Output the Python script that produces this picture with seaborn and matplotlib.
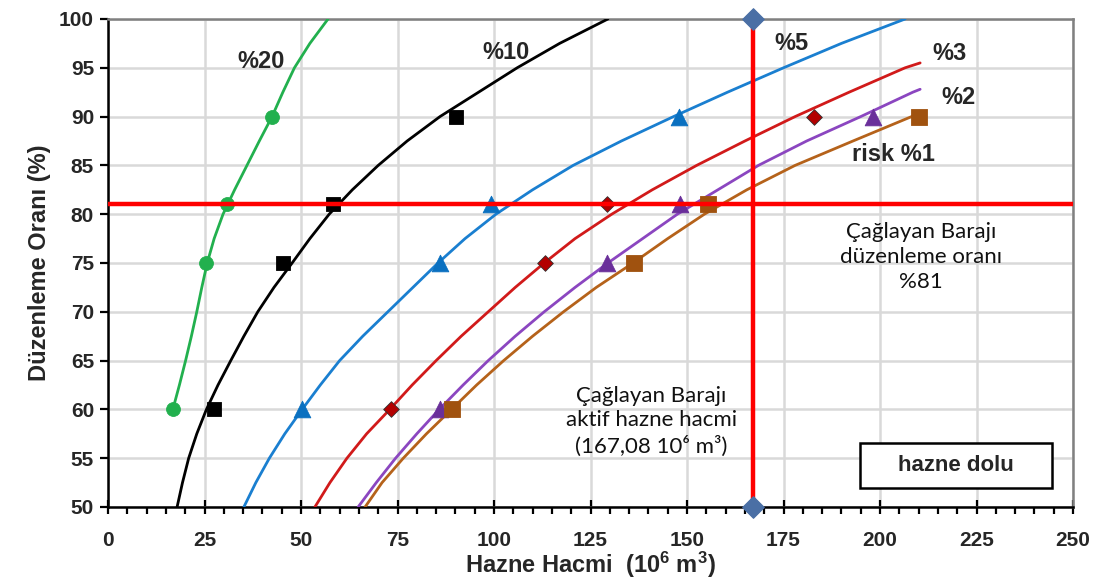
import matplotlib
matplotlib.use("Agg")
import matplotlib.pyplot as plt
import seaborn as sns
import pandas as pd
from matplotlib.ticker import MultipleLocator
from matplotlib.patches import Rectangle

# ---- data ----
y_levels = [60, 75, 81, 90]
risk20_pts = [16.8, 25.4, 30.8, 42.5]
risk10_pts = [27.5, 45.4, 58.3, 90.2]
risk5_pts = [50.3, 86.0, 99.2, 148.0]
risk3_pts = [73.3, 113.2, 129.3, 183.0]
risk2_pts = [86.0, 129.3, 148.2, 198.2]
risk1_pts = [89.0, 136.3, 155.4, 210.0]

# fitted curves
c20_y = [60, 62.5, 65, 67.5, 70, 72.5, 75, 77.5, 80, 82.5, 85, 87.5, 90, 92.5, 95, 97.5, 100]
c20_x = [16.8, 18.5, 20.1, 21.6, 23.0, 24.3, 25.7, 27.5, 29.8, 32.8, 36.0, 39.2, 42.5, 45.3, 48.3, 52.3, 57.0]
c10_y = [50, 52.5, 55, 57.5, 60, 62.5, 65, 67.5, 70, 72.5, 75, 77.5, 80, 82.5, 85, 87.5, 90, 92.5, 95, 97.5, 100]
c10_x = [17.9, 19.3, 20.9, 23.0, 25.5, 28.5, 31.8, 35.2, 38.8, 43.0, 47.7, 52.3, 57.3, 63.3, 70.0, 77.5, 86.0, 96.0, 106.0, 117.0, 129.5]
c5_y = [50, 52.5, 55, 57.5, 60, 62.5, 65, 67.5, 70, 72.5, 75, 77.5, 80, 82.5, 85, 87.5, 90, 92.5, 95, 97.5, 100]
c5_x = [35.2, 38.3, 41.8, 45.8, 50.3, 55.0, 60.0, 66.0, 72.5, 79.0, 85.5, 92.5, 100.5, 110.0, 120.5, 133.0, 146.5, 160.5, 175.0, 190.0, 206.5]
c3_y = [50, 52.5, 55, 57.5, 60, 62.5, 65, 67.5, 70, 72.5, 75, 77.5, 80, 82.5, 85, 87.5, 90, 92.5, 95, 95.5]
c3_x = [53.6, 57.5, 61.9, 67.0, 73.0, 78.8, 85.0, 91.5, 98.5, 105.5, 113.0, 121.0, 130.5, 141.0, 152.5, 165.0, 178.0, 192.0, 206.5, 210.4]
c2_y = [50, 52.5, 55, 57.5, 60, 62.5, 65, 67.5, 70, 72.5, 75, 77.5, 80, 82.5, 85, 87.5, 90, 92.5, 92.8]
c2_x = [64.8, 69.5, 74.5, 80.0, 85.8, 92.0, 98.5, 105.5, 113.0, 121.0, 129.5, 138.5, 147.5, 158.0, 168.5, 181.0, 195.0, 208.5, 210.4]
c1_y = [50, 52.5, 55, 57.5, 60, 62.5, 65, 67.5, 70, 72.5, 75, 77.5, 80, 82.5, 85, 87.5, 90.3]
c1_x = [66.6, 71.0, 76.5, 82.5, 89.0, 95.5, 102.5, 110.0, 118.0, 126.5, 136.0, 145.0, 154.5, 165.5, 178.0, 193.0, 210.0]

dam_volume = 167.08
dam_ratio = 81

x_ticks = list(range(0, 251, 25))
y_ticks = list(range(50, 101, 5))

sns.set_style("white")
plt.rcParams['font.family'] = ['Liberation Sans', 'DejaVu Sans']
plt.rcParams['font.weight'] = 'bold'
plt.rcParams['mathtext.fontset'] = 'custom'
plt.rcParams['mathtext.rm'] = 'Liberation Sans'
plt.rcParams['mathtext.bf'] = 'Liberation Sans:bold'

fig = plt.figure(figsize=(10.94, 5.85), dpi=100)
ax = fig.add_axes([108/1094, 1-507/585, (1073-108)/1094, (507-19)/585])

series = [
    (c20_x, c20_y, risk20_pts, "#22b04e", "#22b04e", "o", 10),
    (c10_x, c10_y, risk10_pts, "#000000", "#000000", "s", 10),
    (c5_x, c5_y, risk5_pts, "#1a7fd0", "#0a70c0", "^", 12),
    (c3_x, c3_y, risk3_pts, "#d11a1a", "#b30000", "D", 8),
    (c2_x, c2_y, risk2_pts, "#8b46c0", "#6a2f9a", "^", 12),
    (c1_x, c1_y, risk1_pts, "#b5621a", "#a0520f", "s", 11),
]

for cx, cy, pts, lc, mc, mk, ms in series:
    sns.lineplot(x=cx, y=cy, sort=False, estimator=None, color=lc,
                 linewidth=2.0, ax=ax, zorder=3)
    df = pd.DataFrame({"x": pts, "y": y_levels})
    sns.scatterplot(data=df, x="x", y="y", marker=mk, s=ms**2, color=mc,
                    edgecolor="#333333" if mk == "D" else mc, linewidth=0.6,
                    ax=ax, zorder=4)

# crosshair
ax.axhline(dam_ratio, color="#ff0000", linewidth=3.2, zorder=5)
sns.lineplot(x=[dam_volume, dam_volume], y=[50, 100], sort=False, estimator=None,
             color="#ff0000", linewidth=3.2, ax=ax, zorder=5)
sns.scatterplot(x=[dam_volume, dam_volume], y=[50, 100], marker="D", s=120,
                color="#4a6fa5", edgecolor="#4a6fa5", ax=ax, zorder=6, clip_on=False)

ax.set_xlim(0, 250)
ax.set_ylim(50, 100)
ax.set_xticks(x_ticks, labels=[str(t) for t in x_ticks], fontweight="bold")
ax.set_yticks(y_ticks, labels=[str(t) for t in y_ticks], fontweight="bold")
ax.xaxis.set_minor_locator(MultipleLocator(5))
ax.grid(True, which="major", color="#d9d9d9", linewidth=1.8, zorder=0)
ax.set_axisbelow(True)

ax.tick_params(axis="x", which="major", direction="inout", length=10, width=1.6,
               labelsize=15, pad=12, color="black", bottom=True)
ax.tick_params(axis="x", which="minor", direction="out", length=5, width=1.6,
               color="black", bottom=True)
ax.tick_params(axis="y", which="major", direction="out", length=6, width=1.6,
               labelsize=15, pad=4, color="black", left=True)
for lab in ax.get_xticklabels() + ax.get_yticklabels():
    lab.set_fontweight("bold")

for s in ["left", "bottom"]:
    ax.spines[s].set_color("black")
    ax.spines[s].set_linewidth(1.8)
for s in ["top", "right"]:
    ax.spines[s].set_color("#808080")
    ax.spines[s].set_linewidth(1.8)

ax.set_xlabel(r"Hazne Hacmi  (10$\mathbf{^6}$ m$\mathbf{^3}$)", fontsize=17,
              fontweight="bold", labelpad=0)
ax.set_ylabel("Düzenleme Oranı (%)", fontsize=17, fontweight="bold", labelpad=6)

lab_kw = dict(fontsize=17, fontweight="bold", ha="center", va="center", zorder=7)
ax.text(39.7, 95.6, "%20", **lab_kw)
ax.text(103.1, 96.6, "%10", **lab_kw)
ax.text(177.0, 97.5, "%5", **lab_kw)
ax.text(218.0, 96.5, "%3", **lab_kw)
ax.text(220.3, 92.0, "%2", **lab_kw)
ax.text(203.4, 86.1, "risk %1", **lab_kw)

note_kw = dict(fontsize=16, fontweight="normal", ha="center", va="center",
               linespacing=1.3, zorder=7, family=["Lato", "DejaVu Sans"], color="#111111")
ax.text(210.6, 75.6, "Çağlayan Barajı\ndüzenleme oranı\n%81", **note_kw)
ax.text(140.7, 58.8, "Çağlayan Barajı\naktif hazne hacmi\n(167,08 10⁶ m³)", **note_kw)

ax.add_patch(Rectangle((194.8, 51.95), 49.8, 4.6, facecolor="white",
                       edgecolor="black", linewidth=1.8, zorder=6))
ax.text(219.7, 54.25, "hazne dolu", fontsize=16, fontweight="bold", ha="center",
        va="center", zorder=7)

fig.savefig("out.png", dpi=100)
